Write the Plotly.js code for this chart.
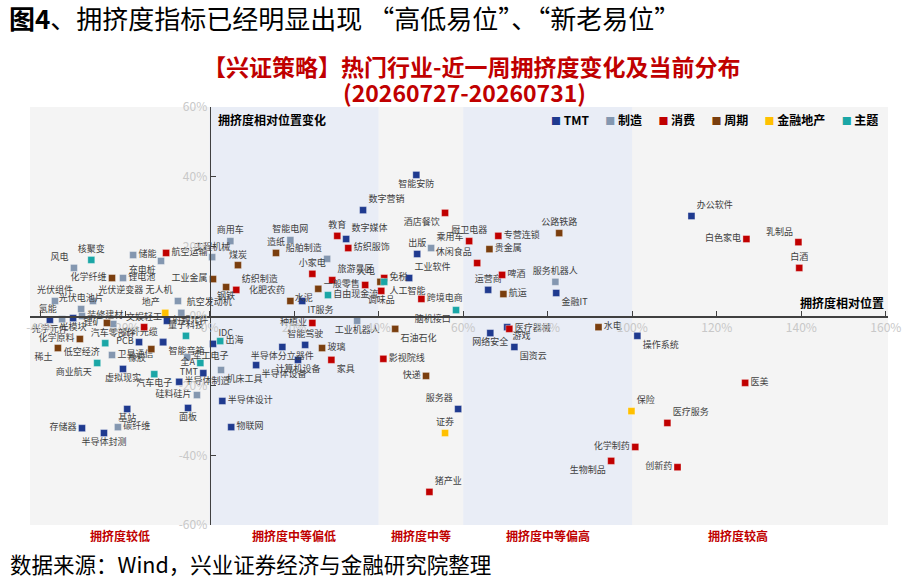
<!DOCTYPE html>
<html><head><meta charset="utf-8">
<script src="https://cdn.plot.ly/plotly-3.0.1.min.js"></script>
<style>html,body{margin:0;padding:0;background:#fff}#chart{width:912px;height:580px}</style>
</head><body><div id="chart"></div>
<script>
const groups = ['TMT','制造','消费','周期','金融地产','主题'];
const groupColors = ['#1f3a8f','#8497b0','#c00000','#7a3e0e','#ffc000','#1aa6a6'];

const tmtNames = ['光学元件','光模块','射频元件','PCB','光纤光缆','智能音箱','虚拟现实','TMT','半导体制造','面板','基站','存储器','半导体封测','IDC','半导体分立器件','智能驾驶','计算机设备','半导体设备','半导体设计','物联网','IT服务','数字营销','智能安防','数字媒体','出版','工业软件','服务器','运营商','金融IT','网络安全','游戏','国资云','操作系统','办公软件'];
const tmtX = [-37.8,-32.3,-10.1,-16.7,-11.0,-11.0,-20.5,-1.5,-7.2,-5.1,-19.5,-30.2,-25.0,0.8,17.2,22.6,20.9,11.0,3.0,5.1,21.9,36.3,48.9,32.3,49.1,47.2,58.8,65.9,82.0,66.4,70.4,72.1,101.2,114.0];
const tmtY = [-1.1,-0.6,-1.4,-7.5,-7.5,-7.5,-15.2,-16.4,-18.9,-26.4,-26.7,-32.2,-33.6,-8.0,-8.9,-8.3,-12.6,-14.1,-24.4,-31.9,4.3,30.4,40.5,22.1,17.8,10.9,-26.7,7.5,6.6,-4.9,-3.2,-8.9,-5.7,28.7];

const mfgNames = ['风电','储能','充电桩','锂电池','光伏组件','光伏逆变器','光伏电池片','装修建材','氢能','无人机','航空发动机','汽车零部件','卫星通信','军工电子','硅料硅片','碳纤维','商用车','工程机械','智能电网','船舶制造','机床工具','工业机器人','乘用车','服务机器人'];
const mfgX = [-32.1,-18.1,-11.5,-20.5,-36.6,-27.6,-30.4,-30.2,-34.9,-7.5,-6.7,-22.8,-23.1,-5.3,-3.0,-21.7,4.9,0.6,19.1,27.8,2.7,34.9,52.4,81.8];
const mfgY = [13.8,17.5,15.8,10.9,4.3,4.3,2.0,0.0,-0.9,4.3,0.9,-2.3,-11.2,-11.8,-22.7,-31.9,21.5,16.9,21.8,16.4,-15.5,-1.4,19.5,9.8];

const conNames = ['航空运输','文娱轻工','纺织制造','小家电','教育','纺织服饰','酒店餐饮','旅游景区','一般零售','免税','调味品','跨境电商','种植业','家具','影视院线','猪产业','厨卫电器','专营连锁','休闲食品','啤酒','医疗器械','化学制药','生物制品','创新药','医疗服务','医美','白色家电','乳制品','白酒'];
const conX = [-10.3,-15.5,6.3,24.3,30.2,32.8,55.7,29.0,36.8,41.3,40.6,50.1,24.3,28.8,41.1,52.0,61.4,68.3,63.3,69.2,70.9,100.7,95.0,110.7,108.3,126.7,127.0,139.3,139.5];
const conY = [18.1,-3.2,7.5,12.1,23.0,19.5,29.6,10.3,8.9,10.9,7.2,4.9,-2.0,-12.6,-12.3,-50.5,21.5,23.0,15.2,11.8,-3.7,-37.6,-41.6,-43.4,-30.7,-19.2,22.1,21.2,13.8];

const cycNames = ['化学纤维','锂矿','化学原料','稀土','橡胶','工业金属','煤炭','钢铁','造纸','化肥农药','水泥','火电','玻璃','石油石化','快递','贵金属','公路铁路','航运','水电'];
const cycX = [-23.1,-24.3,-30.7,-35.9,-13.8,0.8,6.7,3.9,15.7,19.1,25.7,40.4,26.6,43.9,51.2,66.2,82.7,69.5,92.0];
const cycY = [10.9,-2.0,-6.6,-9.2,-9.5,10.6,14.6,8.3,18.1,4.3,7.8,9.8,-9.2,-3.7,-17.2,19.2,23.8,6.3,-3.2];

const finNames = ['地产','证券','保险'];
const finX = [-10.5,55.7,99.8];
const finY = [0.9,-33.6,-27.3];

const thmNames = ['核聚变','量子科技','低空经济','商业航天','汽车电子','全A','出海','自由现金流','人工智能','脑机接口'];
const thmX = [-28.0,-5.6,-24.7,-26.6,-13.1,-2.2,2.5,28.0,41.3,58.3];
const thmY = [16.1,-5.7,-7.8,-13.5,-16.7,-13.5,-7.2,6.0,9.8,1.7];

const bandNames = ['拥挤度较低','拥挤度中等偏低','拥挤度中等','拥挤度中等偏高','拥挤度较高'];
const bandStart = [-42.5,0,40,60,100];
const bandEnd = [0,40,60,100,150];
const xTicks = [-40,-20,0,20,40,60,80,100,120,140,160];
const yTicks = [-60,-40,-20,0,20,40,60];

// label placement (style only)
const tmtPos = ['B','B','R','L','TL','BR','B','L','R','B','B','L','B','TR','B','T','B','BR','R','R','BR','TR','B','TR','T','TR','TL','T','BR','B','BR','BR','BR','TR'];
const mfgPos = ['TL','R','BL','R','T','TR','T','R','TL','TL','TR','B','R','R','L','R','T','T','T','TL','BR','B','TR','T'];
const conPos = ['R','T','TR','T','T','R','BL','TR','L','R','B','R','L','BR','R','TR','T','R','TL','R','R','L','BL','L','TR','R','L','TL','T'];
const cycPos = ['L','L','L','BL','BL','L','T','B','T','TL','BL','TL','R','BR','L','R','T','R','R'];
const finPos = ['TL','T','TR'];
const thmPos = ['T','T','BL','BL','B','L','R','R','BR','BL'];

const posMap = {T:'top center',B:'bottom center',L:'middle left',R:'middle right',TL:'top left',TR:'top right',BL:'bottom left',BR:'bottom right'};
const series = [
  [tmtNames,tmtX,tmtY,tmtPos],[mfgNames,mfgX,mfgY,mfgPos],[conNames,conX,conY,conPos],
  [cycNames,cycX,cycY,cycPos],[finNames,finX,finY,finPos],[thmNames,thmX,thmY,thmPos]
];
const FONT = 'Noto Sans CJK SC, Noto Sans, sans-serif';

const traces = series.map((s,i)=>({
  type:'scatter', mode:'markers+text', name:groups[i],
  x:s[1], y:s[2], text:s[0], textposition:s[3].map(p=>posMap[p]),
  textfont:{family:FONT,size:9,color:'#404040'},
  marker:{symbol:'square',size:7,color:groupColors[i],line:{color:'rgba(255,255,255,0.7)',width:0.5}},
  cliponaxis:false, showlegend:false, hoverinfo:'text'
}));

const X0=-42.5, X1=160.5;
const yAxisPos = (0-X0)/(X1-X0);

const shapes = bandStart.map((b,i)=>({
  type:'rect', xref:'x', yref:'paper', x0:b, x1:(i===bandStart.length-1?X1:bandEnd[i]), y0:0, y1:1,
  fillcolor:(i%2===1)?'#e9edf6':'#f4f4f4', line:{width:0}, layer:'below'
}));

const legendText = '<b>'+groups.map((g,i)=>`<span style="color:${groupColors[i]};font-size:10px">■</span> ${g}`).join('&nbsp;&nbsp;&nbsp;&nbsp;&nbsp;&nbsp;')+'</b>';

const annotations = [
  {xref:'paper',yref:'paper',x:-0.027,y:1.213,xanchor:'left',yanchor:'middle',showarrow:false,
   text:'<b>图4</b>、拥挤度指标已经明显出现 “高低易位”、“新老易位”',font:{family:FONT,size:26,color:'#000'}},
  {xref:'paper',yref:'paper',x:0.515,y:1.098,xanchor:'center',yanchor:'middle',showarrow:false,
   text:'<b>【兴证策略】热门行业-近一周拥挤度变化及当前分布</b>',font:{family:FONT,size:23,color:'#c00000'}},
  {xref:'paper',yref:'paper',x:0.506,y:1.036,xanchor:'center',yanchor:'middle',showarrow:false,
   text:'<b>(20260727-20260731)</b>',font:{family:FONT,size:23,color:'#c00000'}},
  {xref:'paper',yref:'paper',x:yAxisPos+0.007,y:0.969,xanchor:'left',yanchor:'middle',showarrow:false,
   text:'<b>拥挤度相对位置变化</b>',font:{family:FONT,size:12,color:'#000'}},
  {xref:'paper',yref:'paper',x:0.998,y:0.533,xanchor:'right',yanchor:'middle',showarrow:false,
   text:'<b>拥挤度相对位置</b>',font:{family:FONT,size:12,color:'#000'}},
  {xref:'paper',yref:'paper',x:0.991,y:0.969,xanchor:'right',yanchor:'middle',showarrow:false,
   text:legendText,font:{family:FONT,size:12,color:'#000'}},
  {xref:'paper',yref:'paper',x:-0.026,y:-0.093,xanchor:'left',yanchor:'middle',showarrow:false,
   text:'数据来源：Wind，兴业证券经济与金融研究院整理',font:{family:FONT,size:21.5,color:'#000'}}
].concat(bandNames.map((n,i)=>({
  xref:'x',yref:'paper',x:(bandStart[i]+bandEnd[i])/2,y:-0.026,xanchor:'center',yanchor:'middle',showarrow:false,
  text:'<b>'+n+'</b>',font:{family:FONT,size:12,color:'#c00000'}
})));

const layout = {
  width:912,height:580,margin:{l:30,r:24,t:107,b:55},
  paper_bgcolor:'#ffffff',plot_bgcolor:'#f4f4f4',
  font:{family:FONT},
  xaxis:{range:[X0,X1],tickvals:xTicks,ticktext:xTicks.map(v=>v+'%'),showgrid:false,zeroline:false,
    showline:true,linecolor:'#404040',linewidth:1.5,ticks:'inside',ticklen:5,tickcolor:'#404040',
    anchor:'free',position:0.5,tickfont:{family:FONT,size:12,color:'#c8c8c8'}},
  yaxis:{range:[-60,60],tickvals:yTicks,ticktext:yTicks.map(v=>v+'%'),showgrid:false,zeroline:false,
    showline:true,linecolor:'#404040',linewidth:1.5,ticks:'inside',ticklen:5,tickcolor:'#404040',
    anchor:'free',position:yAxisPos,tickfont:{family:FONT,size:12,color:'#c8c8c8'}},
  shapes:shapes, annotations:annotations, showlegend:false
};
Plotly.newPlot('chart',traces,layout,{displayModeBar:false,staticPlot:true});
</script></body></html>
